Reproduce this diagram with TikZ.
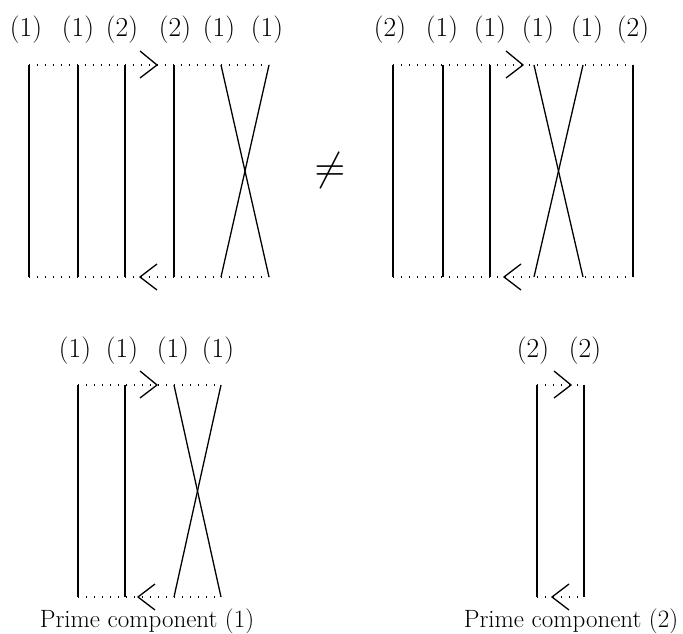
\documentclass[tikz,border=0pt]{standalone}
\usepackage{fontspec}
\setmainfont{Latin Modern Roman}
\begin{document}
\begin{tikzpicture}[x=1pt,y=-1pt,
  strand/.style={line width=1.3pt},
  dots/.style={line width=1.2pt,dash pattern=on 1.2pt off 6.8pt},
  chev/.style={line width=1.3pt},
  lab/.style={font=\fontsize{27.5}{30}\selectfont,inner sep=0pt},
  captext/.style={font=\fontsize{25}{28}\selectfont,inner sep=0pt}]
\useasboundingbox (0,0) rectangle (683,634);
% ---------- top left ----------
\foreach \x/\n in {29/a,78/b,125/c,174/d,221/e,269/f}{
  \coordinate (tl\n t) at (\x,65); \coordinate (tl\n b) at (\x,277);}
\foreach \n in {a,b,c,d}{\draw[strand] (tl\n t) -- (tl\n b);}
\draw[strand] (tlet) -- (tlfb); \draw[strand] (tlft) -- (tleb);
\draw[dots] (tlat) -- (tlft); \draw[dots] (tlab) -- (tlfb);
\coordinate (tlup) at (157,65); \coordinate (tldn) at (140,277);
\draw[chev] ([shift={(-17,-14)}]tlup) -- (tlup) -- ([shift={(-17,13)}]tlup);
\draw[chev] ([shift={(17,-13)}]tldn) -- (tldn) -- ([shift={(17,13)}]tldn);
\foreach \x/\t/\n in {26/1/a,78/1/b,122/2/c,175/2/d,219/1/e,267/1/f}{
  \node[lab] (tll\n) at (\x,30) {(\t)};}
% ---------- top right ----------
\foreach \x/\n in {393/a,443/b,490/c,534/d,583/e,633/f}{
  \coordinate (tr\n t) at (\x,65); \coordinate (tr\n b) at (\x,277);}
\foreach \n in {a,b,c,f}{\draw[strand] (tr\n t) -- (tr\n b);}
\draw[strand] (trdt) -- (treb); \draw[strand] (tret) -- (trdb);
\draw[dots] (trat) -- (trft); \draw[dots] (trab) -- (trfb);
\coordinate (trup) at (523,65); \coordinate (trdn) at (504,277);
\draw[chev] ([shift={(-17,-14)}]trup) -- (trup) -- ([shift={(-17,13)}]trup);
\draw[chev] ([shift={(17,-13)}]trdn) -- (trdn) -- ([shift={(17,13)}]trdn);
\foreach \x/\t/\n in {390/2/a,442/1/b,490/1/c,538/1/d,587/1/e,633/2/f}{
  \node[lab] (trl\n) at (\x,30) {(\t)};}
% ---------- not equal ----------
\node[inner sep=0pt] (neq) at (330,170) {\scalebox{4}{$\neq$}};
% ---------- bottom left ----------
\foreach \x/\n in {78/a,125/b,174/c,221/d}{
  \coordinate (bl\n t) at (\x,385); \coordinate (bl\n b) at (\x,597);}
\foreach \n in {a,b}{\draw[strand] (bl\n t) -- (bl\n b);}
\draw[strand] (blct) -- (bldb); \draw[strand] (bldt) -- (blcb);
\draw[dots] (blat) -- (bldt); \draw[dots] (blab) -- (bldb);
\coordinate (blup) at (157,385); \coordinate (bldn) at (138,597);
\draw[chev] ([shift={(-17,-14)}]blup) -- (blup) -- ([shift={(-17,13)}]blup);
\draw[chev] ([shift={(17,-13)}]bldn) -- (bldn) -- ([shift={(17,13)}]bldn);
\foreach \x/\n in {75/a,122/b,173/c,218/d}{
  \node[lab] (bll\n) at (\x,351) {(1)};}
\node[captext] (blcap) at (147,621) {Prime component (1)};
% ---------- bottom right ----------
\foreach \x/\n in {537/a,584/b}{
  \coordinate (br\n t) at (\x,385); \coordinate (br\n b) at (\x,597);}
\foreach \n in {a,b}{\draw[strand] (br\n t) -- (br\n b);}
\draw[dots] (brat) -- (brbt); \draw[dots] (brab) -- (brbb);
\coordinate (brup) at (571,385); \coordinate (brdn) at (552,597);
\draw[chev] ([shift={(-17,-14)}]brup) -- (brup) -- ([shift={(-17,13)}]brup);
\draw[chev] ([shift={(17,-13)}]brdn) -- (brdn) -- ([shift={(17,13)}]brdn);
\node[lab] (brla) at (533,351) {(2)};
\node[lab] (brlb) at (585,351) {(2)};
\node[captext] (brcap) at (571,621) {Prime component (2)};
\end{tikzpicture}
\end{document}
